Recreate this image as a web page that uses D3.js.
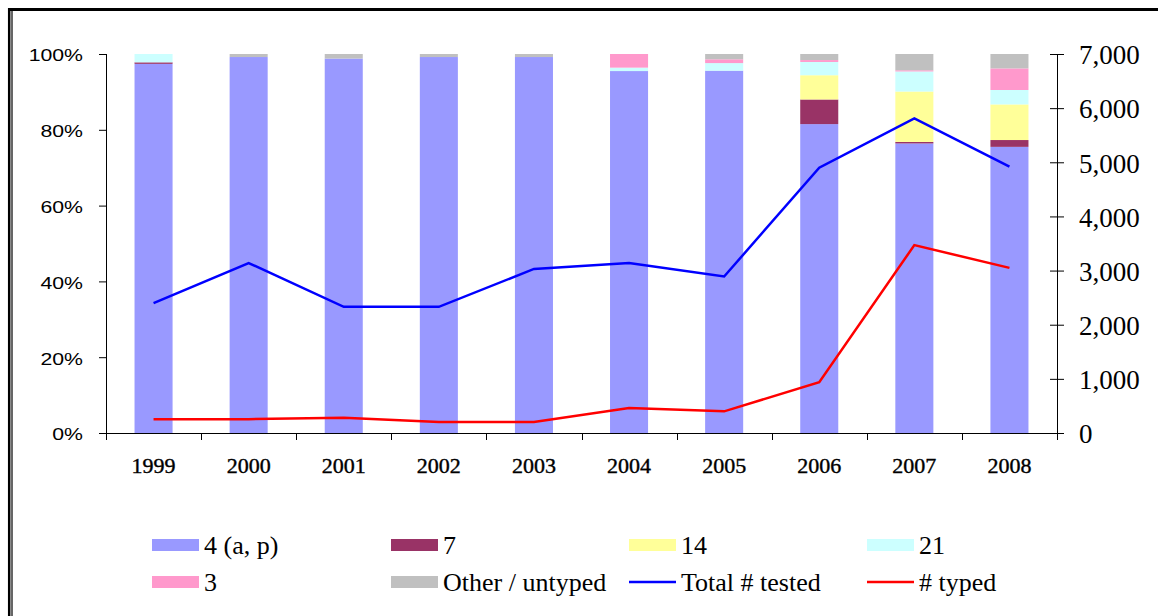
<!DOCTYPE html>
<html>
<head>
<meta charset="utf-8">
<script src="https://cdn.jsdelivr.net/npm/d3@7"></script>
<style>
  html, body { margin: 0; padding: 0; background: #fff; }
  svg { display: block; }
</style>
</head>
<body>
<div id="chart"></div>
<script>
// --- Data ---
const years = ["1999","2000","2001","2002","2003","2004","2005","2006","2007","2008"];

// share of typed isolates, % (stacked bottom → top)
const type4   = [97.4, 99.2, 98.8, 99.2, 99.2, 95.5, 95.6, 81.5, 76.4, 75.5];
const type7   = [ 0.4,  0,    0,    0,    0,    0,    0,    6.5,  0.4,  1.8];
const type14  = [ 0,    0,    0,    0,    0,    0,    0,    6.4, 13.3,  9.4];
const type21  = [ 2.2,  0,    0,    0,    0,    0.9,  2.0,  3.5,  5.3,  3.8];
const type3   = [ 0,    0,    0,    0,    0,    3.6,  1.0,  0.5,  0.3,  5.7];
const typeOth = [ 0,    0.8,  1.2,  0.8,  0.8,  0,    1.4,  1.6,  4.3,  3.8];

// counts (right axis)
const totalTested = [2400, 3140, 2330, 2330, 3030, 3140, 2890, 4900, 5810, 4920];
const typed       = [ 255,  255,  280,  205,  205,  460,  400,  940, 3470, 3050];

const pctTicks = [0, 20, 40, 60, 80, 100];
const countTicks = [0, 1000, 2000, 3000, 4000, 5000, 6000, 7000];

const seriesKeys   = ["4 (a, p)", "7", "14", "21", "3", "Other / untyped"];
const seriesValues = [type4, type7, type14, type21, type3, typeOth];
const seriesColors = ["#9999ff", "#993366", "#ffff99", "#ccffff", "#ff99cc", "#c0c0c0"];

// --- Layout ---
const W = 1158, H = 616;
const m = { left: 106, right: 1057, top: 54, bottom: 433 };
const serif = "'Liberation Serif', 'Times New Roman', serif";
const sans = "'Liberation Sans', Arial, sans-serif";

const svg = d3.select("#chart").append("svg").attr("width", W).attr("height", H);
svg.append("rect").attr("width", W).attr("height", H).attr("fill", "#fff");

// outer frame (top + left double line, right/bottom cropped in the original)
svg.append("line").attr("x1", 8).attr("x2", W).attr("y1", 9.5).attr("y2", 9.5)
  .attr("stroke", "#000").attr("stroke-width", 3);
svg.append("line").attr("x1", 9.2).attr("x2", 9.2).attr("y1", 8).attr("y2", H)
  .attr("stroke", "#000").attr("stroke-width", 2.5);
svg.append("line").attr("x1", 12).attr("x2", 12).attr("y1", 11).attr("y2", H)
  .attr("stroke", "#000").attr("stroke-width", 1.2);

// --- Scales ---
const x = d3.scaleBand().domain(years).range([m.left, m.right]).paddingInner(0.6).paddingOuter(0.3);
const yPct = d3.scaleLinear().domain([0, 100]).range([m.bottom, m.top]);
const yCnt = d3.scaleLinear().domain([0, 7000]).range([m.bottom, m.top]);
const xc = d => x(d) + x.bandwidth() / 2;

// --- Stacked bars ---
const table = years.map((yr, i) => {
  const row = { year: yr };
  seriesKeys.forEach((k, j) => row[k] = seriesValues[j][i]);
  return row;
});
const stacked = d3.stack().keys(seriesKeys)(table);

svg.append("g").selectAll("g").data(stacked).join("g")
  .attr("fill", (d, i) => seriesColors[i])
  .selectAll("rect").data(d => d).join("rect")
    .attr("x", d => x(d.data.year))
    .attr("width", x.bandwidth())
    .attr("y", d => yPct(d[1]))
    .attr("height", d => Math.max(0, yPct(d[0]) - yPct(d[1])));

// --- Lines ---
const line = vals => d3.line().x((d, i) => xc(years[i])).y(d => yCnt(d))(vals);
svg.append("path").attr("d", line(totalTested)).attr("fill", "none")
  .attr("stroke", "#0000ff").attr("stroke-width", 2.5).attr("stroke-linejoin", "miter");
svg.append("path").attr("d", line(typed)).attr("fill", "none")
  .attr("stroke", "#ff0000").attr("stroke-width", 2.5).attr("stroke-linejoin", "miter");

// --- Axes ---
const axisCol = "#000";
// left axis
const gl = svg.append("g").attr("transform", `translate(${m.left},0)`)
  .call(d3.axisLeft(yPct).tickValues(pctTicks).tickSize(7).tickFormat(d => d + "%"));
gl.select(".domain").attr("d", `M0.5,${m.top}V${m.bottom}`).attr("stroke", axisCol);
gl.selectAll(".tick line").attr("stroke", axisCol);
gl.selectAll(".tick text")
  .attr("font-family", sans).attr("font-size", 17).attr("fill", "#000")
  .attr("x", 0).attr("dy", "0.4em")
  .attr("transform", "translate(-23,0) scale(1.25,1)");

// right axis (ticks cross the line)
const gr = svg.append("g").attr("transform", `translate(${m.right},0)`)
  .call(d3.axisRight(yCnt).tickValues(countTicks).tickSize(7).tickFormat(d3.format(",")));
gr.select(".domain").attr("d", `M0.5,${m.top}V${m.bottom + 7}`).attr("stroke", axisCol);
gr.selectAll(".tick line").attr("x1", -7).attr("x2", 7).attr("stroke", axisCol);
gr.selectAll(".tick text")
  .attr("font-family", serif).attr("font-size", 27).attr("fill", "#000")
  .attr("x", 22).attr("dy", "0.36em");

// bottom axis with ticks at category boundaries
const gb = svg.append("g").attr("transform", `translate(0,${m.bottom})`)
  .call(d3.axisBottom(x).tickSize(0).tickPadding(24));
gb.select(".domain").attr("d", `M${m.left},0.5H${m.right}`).attr("stroke", axisCol);
gb.selectAll(".tick text")
  .attr("font-family", serif).attr("font-size", 22).attr("fill", "#000")
  .attr("stroke", "#000").attr("stroke-width", 0.4).attr("dy", "0.71em");
const bounds = d3.range(years.length + 1).map(i => x(years[0]) - x.step() * x.paddingOuter() + i * x.step());
gb.append("g").selectAll("line").data(bounds).join("line")
  .attr("x1", d => Math.round(d) + 0.5).attr("x2", d => Math.round(d) + 0.5).attr("y1", 0).attr("y2", 7)
  .attr("stroke", axisCol);

// --- Legend ---
const legendCols = [152, 391, 629, 867];
const legendRows = [545, 582];
const legendItems = [
  { label: "4 (a, p)", type: "rect", color: seriesColors[0] },
  { label: "7", type: "rect", color: seriesColors[1] },
  { label: "14", type: "rect", color: seriesColors[2] },
  { label: "21", type: "rect", color: seriesColors[3] },
  { label: "3", type: "rect", color: seriesColors[4] },
  { label: "Other / untyped", type: "rect", color: seriesColors[5] },
  { label: "Total # tested", type: "line", color: "#0000ff" },
  { label: "# typed", type: "line", color: "#ff0000" }
];
const lg = svg.append("g").selectAll("g").data(legendItems).join("g")
  .attr("transform", (d, i) => `translate(${legendCols[i % 4]},${legendRows[Math.floor(i / 4)]})`);
lg.filter(d => d.type === "rect").append("rect")
  .attr("x", 0).attr("y", -6).attr("width", 47).attr("height", 12).attr("fill", d => d.color);
lg.filter(d => d.type === "line").append("line")
  .attr("x1", 0).attr("x2", 47).attr("y1", 0).attr("y2", 0)
  .attr("stroke", d => d.color).attr("stroke-width", 2.5);
lg.append("text").attr("x", 52).attr("y", 0).attr("dy", "0.34em")
  .attr("font-family", serif).attr("font-size", 26).attr("fill", "#000")
  .text(d => d.label);
</script>
</body>
</html>
